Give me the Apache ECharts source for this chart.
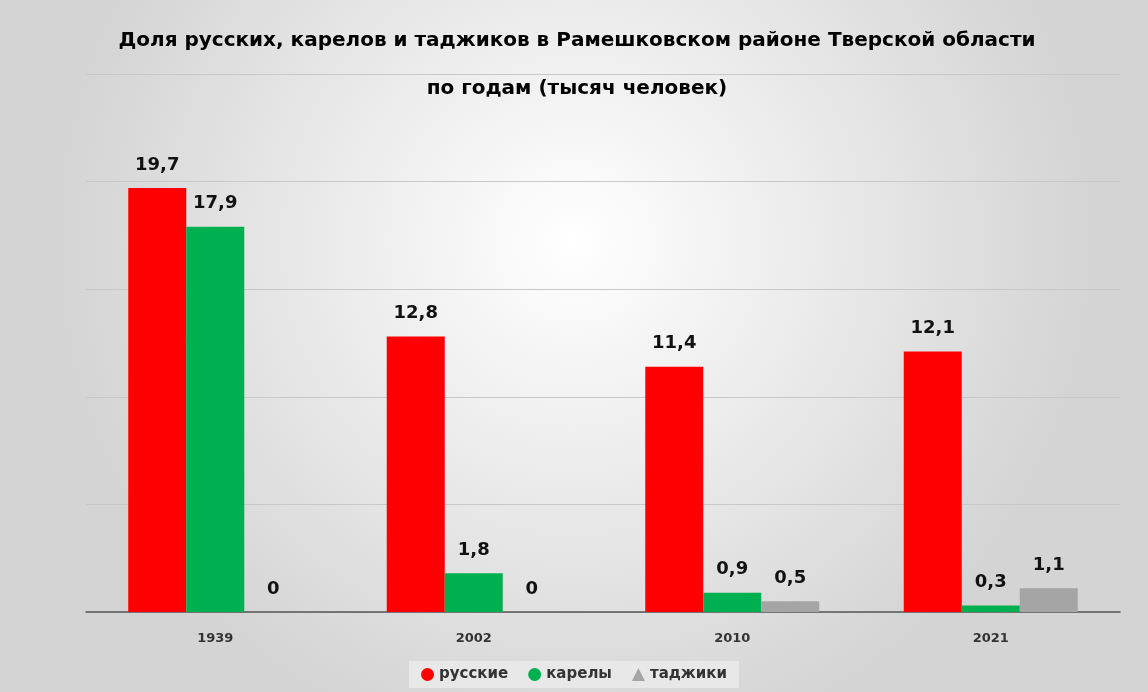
<!DOCTYPE html>
<html><head><meta charset="utf-8">
<script src="https://cdn.jsdelivr.net/npm/echarts@6/dist/echarts.min.js"></script>
<style>html,body{margin:0;padding:0}#c{width:1148px;height:692px}</style>
</head><body><div id="c"></div>
<script>
const years = ['1939', '2002', '2010', '2021'];
const russians = [19.7, 12.8, 11.4, 12.1];
const karelians = [17.9, 1.8, 0.9, 0.3];
const tajiks = [0, 0, 0.5, 1.1];

const chart = echarts.init(document.getElementById('c'));
const lbl = {
  show: true, position: 'top', distance: 14,
  fontFamily: 'DejaVu Sans', fontWeight: 'bold', fontSize: 18, color: '#111',
  formatter: p => String(p.value).replace('.', ',')
};
function bar(name, data, color) {
  return { name, type: 'bar', data, barWidth: 58, barGap: '0%',
    itemStyle: { color }, label: lbl };
}
chart.setOption({
  backgroundColor: {
    type: 'radial', x: 0.5, y: 0.35, r: 0.75,
    colorStops: [{ offset: 0, color: '#ffffff' }, { offset: 1, color: '#d4d4d4' }]
  },
  title: {
    text: 'Доля русских, карелов и таджиков в Рамешковском районе Тверской области\n\nпо годам (тысяч человек)',
    left: 572, textAlign: 'center', top: 24,
    textStyle: { fontFamily: 'DejaVu Sans', fontWeight: 'bold', fontSize: 20, color: '#000', lineHeight: 24 }
  },
  legend: {
    bottom: 4, left: 'center', itemWidth: 13, itemHeight: 13, itemGap: 20, icon: 'circle',
    backgroundColor: '#e8e8e8', padding: [6, 12],
    textStyle: { fontFamily: 'DejaVu Sans', fontWeight: 'bold', fontSize: 15, color: '#333' },
    data: [{ name: 'русские' }, { name: 'карелы' }, { name: 'таджики', icon: 'triangle' }]
  },
  grid: { left: 86, right: 28, top: 74, bottom: 80 },
  xAxis: {
    type: 'category', data: years,
    axisTick: { show: false },
    axisLine: { lineStyle: { color: '#555', width: 1.5 } },
    axisLabel: { margin: 20, fontFamily: 'DejaVu Sans', fontWeight: 'bold', fontSize: 13, color: '#333' }
  },
  yAxis: {
    type: 'value', min: 0, max: 25, interval: 5,
    axisLabel: { show: false },
    splitLine: { lineStyle: { color: '#c8c8c8' } }
  },
  series: [
    bar('русские', russians, '#ff0000'),
    bar('карелы', karelians, '#00b050'),
    bar('таджики', tajiks, '#a5a5a5')
  ]
});
</script></body></html>
